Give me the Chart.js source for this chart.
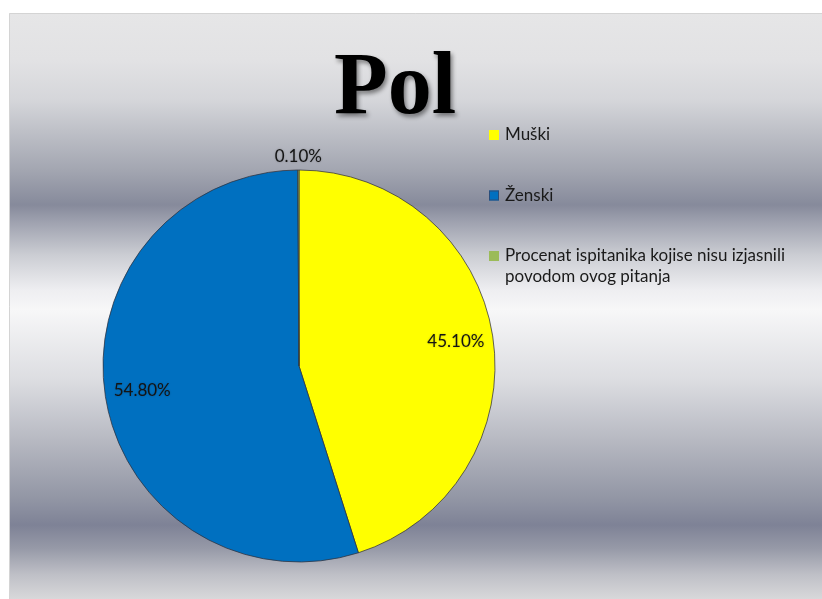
<!DOCTYPE html>
<html>
<head>
<meta charset="utf-8">
<script src="https://cdn.jsdelivr.net/npm/chart.js@4/dist/chart.umd.min.js"></script>
<style>
  html, body { margin: 0; padding: 0; background: #ffffff; }
  #wrap { position: relative; width: 822px; height: 599px; }
  canvas { display: block; }
</style>
</head>
<body>
<div id="wrap"><canvas id="c" width="822" height="599"></canvas></div>
<script>
// ---- data ----
const chartTitle = "Pol";
const categories = ["Muški", "Ženski", "Procenat ispitanika kojise nisu izjasnili povodom ovog pitanja"];
const values = [45.1, 54.8, 0.1];
const valueLabels = ["45.10%", "54.80%", "0.10%"];
const sliceColors = ["#FFFF00", "#0070C0", "#9BBB59"];

// ---- background (metal gradient frame) ----
const bgPlugin = {
  id: 'bg',
  beforeDraw(chart) {
    const ctx = chart.ctx;
    const x0 = 9, y0 = 13, x1 = 822, y1 = 599;
    const g = ctx.createLinearGradient(0, y0, 0, y1);
    const stops = [
      [13, '#e6e6e7'], [60, '#e2e2e4'], [100, '#d5d6da'], [130, '#bfc1c8'],
      [170, '#a3a6b1'], [205, '#868a9b'], [220, '#9c9fad'], [255, '#cbcdd3'],
      [290, '#eeeef1'], [310, '#f7f7f8'], [380, '#dcdde1'], [440, '#b7b9c2'],
      [500, '#9195a4'], [525, '#7e8296'], [548, '#9699a7'], [575, '#bfc0c7'], [599, '#d8d8da']
    ];
    stops.forEach(([y, c]) => g.addColorStop((y - y0) / (y1 - y0), c));
    ctx.save();
    ctx.fillStyle = '#ffffff';
    ctx.fillRect(0, 0, chart.width, chart.height);
    ctx.fillStyle = g;
    ctx.fillRect(x0, y0, x1 - x0, y1 - y0);
    ctx.strokeStyle = '#d4d4d4';
    ctx.lineWidth = 1;
    ctx.beginPath();
    ctx.moveTo(x0 + 0.5, y1);
    ctx.lineTo(x0 + 0.5, y0 + 0.5);
    ctx.lineTo(x1, y0 + 0.5);
    ctx.stroke();
    ctx.restore();
  }
};

// ---- title ----
const titlePlugin = {
  id: 'bigTitle',
  afterDraw(chart) {
    const ctx = chart.ctx;
    ctx.save();
    ctx.font = 'bold 88px "Liberation Serif", "Times New Roman", serif';
    ctx.textAlign = 'center';
    ctx.textBaseline = 'alphabetic';
    ctx.shadowColor = 'rgba(0,0,0,0.45)';
    ctx.shadowBlur = 4;
    ctx.shadowOffsetX = 2;
    ctx.shadowOffsetY = 3;
    ctx.fillStyle = '#000000';
    ctx.fillText(chartTitle, 395, 113);
    ctx.restore();
  }
};

// ---- data labels ----
const labelPlugin = {
  id: 'sliceLabels',
  afterDatasetsDraw(chart) {
    const ctx = chart.ctx;
    const meta = chart.getDatasetMeta(0);
    ctx.save();
    ctx.font = '17px Lato, "Open Sans", sans-serif';
    ctx.textAlign = 'center';
    ctx.textBaseline = 'middle';
    ctx.fillStyle = '#141414';
    ctx.shadowColor = 'rgba(0,0,0,0.25)';
    ctx.shadowBlur = 2;
    meta.data.forEach((arc, i) => {
      const p = arc.getProps(['x', 'y', 'startAngle', 'endAngle', 'outerRadius'], true);
      const mid = (p.startAngle + p.endAngle) / 2;
      const share = values[i] / values.reduce((a, b) => a + b, 0);
      const d = share < 0.02 ? p.outerRadius + 13 : p.outerRadius * 0.81;
      const tx = p.x + Math.cos(mid) * d;
      const ty = p.y + Math.sin(mid) * d;
      ctx.fillText(valueLabels[i], tx, ty);
    });
    ctx.restore();
  }
};

// ---- legend ----
function wrapText(ctx, text, maxW) {
  const words = text.split(' ');
  const lines = [];
  let line = '';
  words.forEach(w => {
    const test = line ? line + ' ' + w : w;
    if (ctx.measureText(test).width > maxW && line) { lines.push(line); line = w; }
    else line = test;
  });
  if (line) lines.push(line);
  return lines;
}
const legendPlugin = {
  id: 'sideLegend',
  afterDraw(chart) {
    const ctx = chart.ctx;
    const labels = chart.data.labels;
    const colors = chart.data.datasets[0].backgroundColor;
    ctx.save();
    ctx.font = '17px Lato, "Open Sans", sans-serif';
    ctx.textBaseline = 'middle';
    ctx.textAlign = 'left';
    let y = 135;
    labels.forEach((lab, i) => {
      ctx.fillStyle = colors[i];
      ctx.fillRect(489, y - 5, 10, 10);
      if (i === 1) {
        ctx.strokeStyle = '#2a4d7a';
        ctx.lineWidth = 1;
        ctx.strokeRect(489.5, y - 4.5, 9, 9);
      }
      ctx.fillStyle = '#1a1a1a';
      const lines = wrapText(ctx, lab, 300);
      lines.forEach((ln, k) => ctx.fillText(ln, 505, y + k * 21));
      y += 60.5;
    });
    ctx.restore();
  }
};

new Chart(document.getElementById('c'), {
  type: 'pie',
  data: {
    labels: categories,
    datasets: [{
      data: values,
      backgroundColor: sliceColors,
      borderColor: 'rgba(50,50,60,0.75)',
      borderWidth: 1,
      hoverOffset: 0,
      offset: 0
    }]
  },
  options: {
    responsive: false,
    animation: false,
    devicePixelRatio: 1,
    layout: { padding: { left: 102.5, top: 169.5, right: 326.5, bottom: 36.5 } },
    plugins: {
      legend: { display: false },
      title: { display: false },
      tooltip: { enabled: false }
    }
  },
  plugins: [bgPlugin, labelPlugin, titlePlugin, legendPlugin]
});
</script>
</body>
</html>
